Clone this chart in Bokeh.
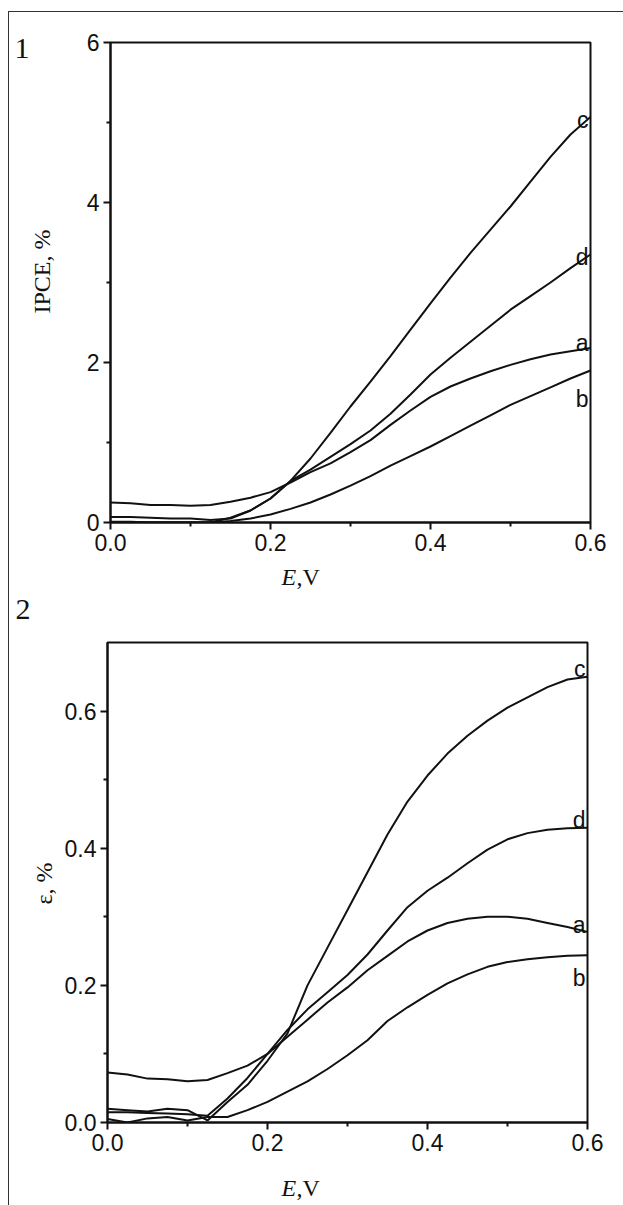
import math
from bokeh.plotting import figure
from bokeh.models import Label, Title, FixedTicker, PrintfTickFormatter, ColumnDataSource
from bokeh.layouts import column, row
from bokeh.embed import file_html
from bokeh.resources import INLINE
from bokeh.core.properties import value

# ---------------- data ----------------
E = [0.0, 0.025, 0.05, 0.075, 0.1, 0.125, 0.15, 0.175, 0.2, 0.225, 0.25, 0.275, 0.3,
     0.325, 0.35, 0.375, 0.4, 0.425, 0.45, 0.475, 0.5, 0.525, 0.55, 0.575, 0.6]

ipce_a = [0.25, 0.24, 0.22, 0.22, 0.21, 0.22, 0.26, 0.31, 0.38, 0.5, 0.63, 0.74, 0.88,
          1.03, 1.22, 1.4, 1.57, 1.7, 1.8, 1.89, 1.97, 2.04, 2.1, 2.14, 2.18]
ipce_b = [0.0, 0.0, 0.0, 0.0, 0.0, 0.0, 0.02, 0.05, 0.1, 0.17, 0.25, 0.35, 0.46,
          0.58, 0.71, 0.83, 0.95, 1.08, 1.21, 1.34, 1.47, 1.58, 1.69, 1.8, 1.9]
ipce_c = [0.01, 0.01, 0.0, 0.0, 0.0, 0.0, 0.06, 0.15, 0.3, 0.52, 0.8, 1.12, 1.45,
          1.76, 2.08, 2.41, 2.74, 3.06, 3.37, 3.66, 3.95, 4.26, 4.57, 4.85, 5.07]
ipce_d = [0.07, 0.07, 0.06, 0.05, 0.05, 0.03, 0.05, 0.15, 0.3, 0.52, 0.66, 0.82, 0.98,
          1.15, 1.36, 1.6, 1.85, 2.06, 2.26, 2.46, 2.66, 2.83, 3.0, 3.18, 3.35]

eps_a = [0.073, 0.07, 0.064, 0.063, 0.06, 0.062, 0.072, 0.083, 0.1, 0.125, 0.15, 0.175, 0.197,
         0.222, 0.243, 0.264, 0.28, 0.291, 0.297, 0.3, 0.3, 0.297, 0.291, 0.285, 0.278]
eps_b = [0.005, 0.0, 0.006, 0.008, 0.003, 0.008, 0.008, 0.018, 0.03, 0.045, 0.06, 0.078, 0.098,
         0.12, 0.148, 0.168, 0.186, 0.203, 0.216, 0.227, 0.234, 0.238, 0.241, 0.243, 0.244]
eps_c = [0.02, 0.018, 0.016, 0.02, 0.018, 0.003, 0.03, 0.055, 0.09, 0.13, 0.2, 0.255, 0.31,
         0.365, 0.42, 0.468, 0.506, 0.538, 0.564, 0.586, 0.605, 0.62, 0.635, 0.646, 0.65]
eps_d = [0.015, 0.015, 0.014, 0.013, 0.012, 0.01, 0.035, 0.065, 0.1, 0.135, 0.165, 0.19, 0.215,
         0.245, 0.28, 0.314, 0.338, 0.357, 0.378, 0.398, 0.413, 0.422, 0.427, 0.429, 0.43]

curve_names = ["a", "b", "c", "d"]
x_ticks = [0.0, 0.2, 0.4, 0.6]
top_y_ticks = [0, 2, 4, 6]
bot_y_ticks = [0.0, 0.2, 0.4, 0.6]

INK = "#111111"
SANS = "Liberation Sans"
SERIF = "Liberation Serif"


def make_panel(width, height, mb_top, mb_bottom, mb_left, mb_right, ymax, yticks, yfmt):
    p = figure(width=width, height=height, x_range=(0, 0.6), y_range=(0, ymax),
               output_backend="svg", toolbar_location=None,
               min_border_left=mb_left, min_border_right=mb_right,
               min_border_top=mb_top, min_border_bottom=mb_bottom)
    p.grid.visible = False
    p.background_fill_color = "white"
    p.border_fill_color = "white"
    p.outline_line_color = INK
    p.outline_line_width = 2
    p.xaxis.ticker = FixedTicker(ticks=x_ticks, minor_ticks=[0.1, 0.3, 0.5])
    p.xaxis.formatter = PrintfTickFormatter(format="%.1f")
    p.yaxis.ticker = FixedTicker(ticks=yticks,
                                 minor_ticks=[(yticks[i] + yticks[i + 1]) / 2 for i in range(len(yticks) - 1)])
    p.yaxis.formatter = PrintfTickFormatter(format=yfmt)
    for ax in (p.xaxis[0], p.yaxis[0]):
        ax.axis_line_color = INK
        ax.axis_line_width = 2
        ax.major_tick_line_color = INK
        ax.major_tick_line_width = 2
        ax.minor_tick_line_color = INK
        ax.minor_tick_line_width = 2
        ax.major_tick_in = 0
        ax.major_tick_out = 7
        ax.minor_tick_in = 0
        ax.minor_tick_out = 4
        ax.major_label_text_font = SANS
        ax.major_label_text_font_size = "23px"
        ax.major_label_text_color = INK
        ax.major_label_standoff = 4
    return p


def add_curves(p, series, offsets):
    for name, ys in zip(curve_names, series):
        src = ColumnDataSource(dict(x=E, y=ys))
        p.line("x", "y", source=src, line_color=INK, line_width=2)
    for name, ys in zip(curve_names, series):
        p.text(x=[E[-1]], y=[ys[-1]], text=[name], text_font=value(SANS),
               text_font_size="23px", text_color=INK, text_align="right",
               text_baseline="alphabetic", x_offset=-2, y_offset=offsets[name])


def strip(width, height, xr, yr):
    """A blank figure; its frame is mapped to page-pixel coordinates (y down)."""
    s = figure(width=width, height=height, x_range=xr, y_range=yr,
               x_axis_type=None, y_axis_type=None, output_backend="svg",
               toolbar_location=None, min_border=0, outline_line_color=None)
    s.background_fill_color = "white"
    s.border_fill_color = "white"
    return s


def lab(s, x, y, text, size, style="normal", angle=0, align="left"):
    s.add_layout(Label(x=x, y=y, text=text, text_font=SERIF, text_font_size=size,
                       text_font_style=style, angle=angle, text_align=align,
                       text_baseline="middle", text_color=INK))


# ---------- panel 1 (frame: page x 110-590, y 42-522) ----------
p1 = make_panel(558, 550, 30, 40, 45, 33, 6, top_y_ticks, "%d")
add_curves(p1, [ipce_a, ipce_b, ipce_c, ipce_d], {"a": -5, "b": 28, "c": 3, "d": 2})
L1 = strip(56, 550, (9, 65), (522, 42))   # frame is aligned with p1's frame
lab(L1, 41, 271, "IPCE, %", "24px", angle=math.pi / 2, align="center")
L1.add_layout(Title(text="1", text_font=SERIF, text_font_size="30px",
                    text_font_style="normal", text_color=INK, align="left",
                    offset=5, standoff=-30, vertical_align="bottom"), "above")

S1 = strip(614, 68, (9, 623), (630, 562))
lab(S1, 281, 576, "E", "24px", style="italic")
lab(S1, 296, 576, ",V", "24px")
lab(S1, 15, 609, "2", "30px")

# ---------- panel 2 (frame: page x 107-587, y 642-1122) ----------
p2 = make_panel(564, 532, 12, 40, 48, 36, 0.7, bot_y_ticks, "%.1f")
add_curves(p2, [eps_a, eps_b, eps_c, eps_d], {"a": -7, "b": 23, "c": -8, "d": -8})
L2 = strip(50, 532, (9, 59), (1122, 642))  # frame is aligned with p2's frame
lab(L2, 43.5, 883, "ε, %", "24px", angle=math.pi / 2, align="center")

S2 = strip(614, 43, (9, 623), (1205, 1162))
lab(S2, 281, 1187, "E", "24px", style="italic")
lab(S2, 296, 1187, ",V", "24px")

layout = column(row(L1, p1, spacing=0), S1, row(L2, p2, spacing=0), S2,
                spacing=0, margin=(11, 0, 0, 8),
                styles={"border-top": "1.5px solid #333", "border-left": "1.5px solid #333",
                        "background": "white"})

with open("out.html", "w") as f:
    f.write(file_html(layout, INLINE))
